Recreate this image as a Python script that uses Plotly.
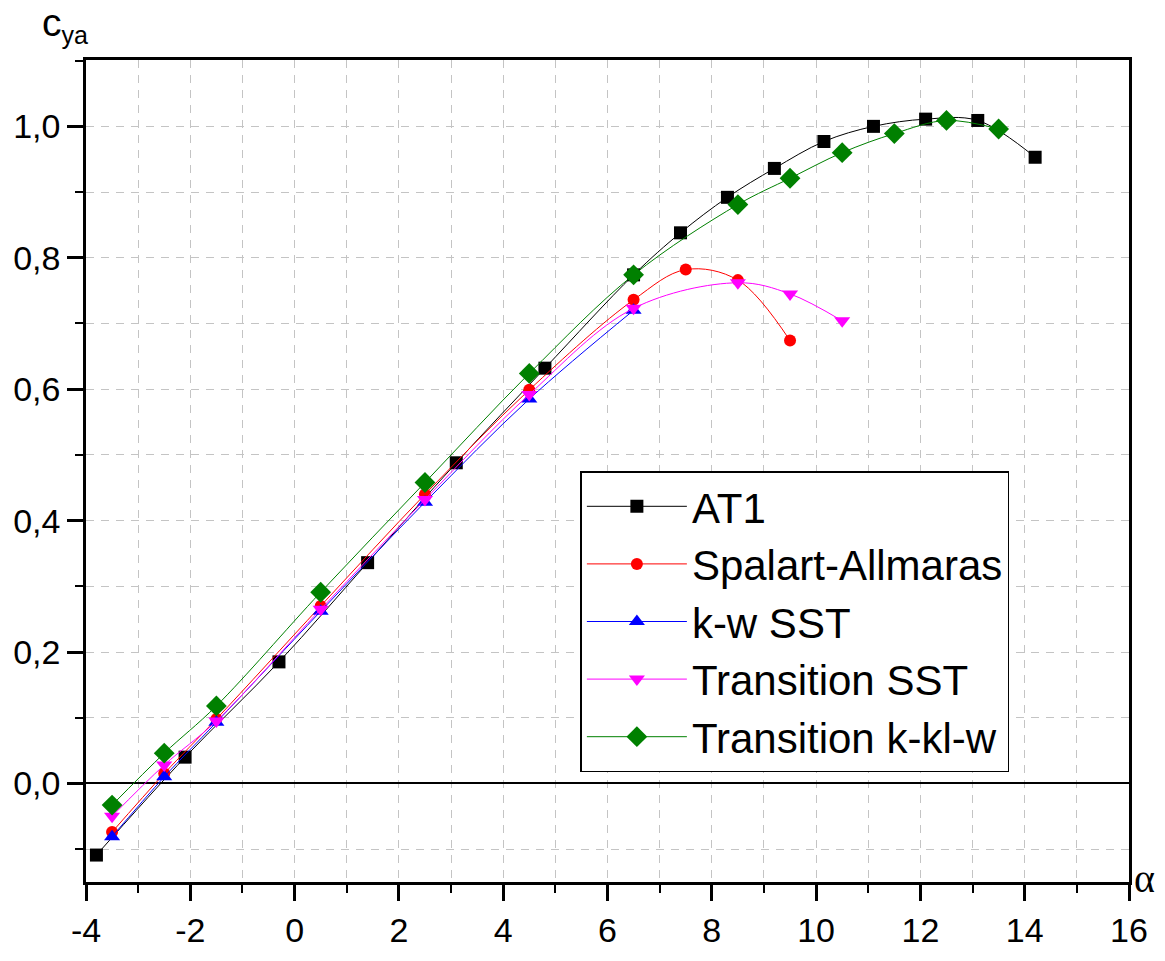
import plotly.graph_objects as go

# ---- data ----
at1_x = [-3.8, -2.1, -0.3, 1.4, 3.1, 4.8, 6.5, 7.4, 8.3, 9.2, 10.15, 11.1, 12.1, 13.1, 14.2]
at1_y = [-0.109, 0.040, 0.185, 0.336, 0.488, 0.632, 0.774, 0.838, 0.892, 0.936, 0.977, 1.000, 1.011, 1.009, 0.953]

sa_x = [-3.5, -2.5, -1.5, 0.5, 2.5, 4.5, 6.5, 7.5, 8.5, 9.5]
sa_y = [-0.074, 0.015, 0.098, 0.270, 0.440, 0.599, 0.736, 0.782, 0.766, 0.674]

kw_x = [-3.5, -2.5, -1.5, 0.5, 2.5, 4.5, 6.5]
kw_y = [-0.081, 0.010, 0.093, 0.262, 0.428, 0.585, 0.720]

tsst_x = [-3.5, -2.5, -1.5, 0.5, 2.5, 4.5, 6.5, 8.5, 9.5, 10.5]
tsst_y = [-0.050, 0.028, 0.095, 0.265, 0.432, 0.592, 0.723, 0.762, 0.745, 0.704]

tkkl_x = [-3.5, -2.5, -1.5, 0.5, 2.5, 4.5, 6.5, 8.5, 9.5, 10.5, 11.5, 12.5, 13.5]
tkkl_y = [-0.033, 0.046, 0.118, 0.291, 0.458, 0.624, 0.774, 0.881, 0.921, 0.960, 0.989, 1.009, 0.996]

names = ["AT1", "Spalart-Allmaras", "k-w SST", "Transition SST", "Transition k-kl-w"]
xs = [at1_x, sa_x, kw_x, tsst_x, tkkl_x]
ys = [at1_y, sa_y, kw_y, tsst_y, tkkl_y]
colors = ["#000000", "#ff0000", "#0000ff", "#ff00ff", "#008000"]
symbols = ["square", "circle", "triangle-up", "triangle-down", "diamond"]
msizes = [13, 12, 14, 14, 16]

x_ticks = [-4, -2, 0, 2, 4, 6, 8, 10, 12, 14, 16]
x_labels = ["-4", "-2", "0", "2", "4", "6", "8", "10", "12", "14", "16"]
y_ticks = [0.0, 0.2, 0.4, 0.6, 0.8, 1.0]
y_labels = ["0,0", "0,2", "0,4", "0,6", "0,8", "1,0"]

fig = go.Figure()
for n, x, y, c, s, m in zip(names, xs, ys, colors, symbols, msizes):
    fig.add_trace(go.Scatter(
        x=x, y=y, name=n, mode="lines+markers",
        line=dict(color=c, width=1, shape="spline", smoothing=1.0),
        marker=dict(symbol=s, size=m, color=c, line=dict(width=0)),
    ))

grid = "#c4c4c4"
gdash = "8px,7px"
fig.update_layout(
    width=1165, height=961,
    margin=dict(l=86, r=36, t=60, b=61),
    paper_bgcolor="white", plot_bgcolor="white",
    separators=", ",
    font=dict(family="Liberation Sans, Arial", size=34, color="black"),
    showlegend=True,
    legend=dict(
        x=0.474, y=0.5, xanchor="left", yanchor="top",
        bgcolor="white", bordercolor="black", borderwidth=1.5,
        font=dict(size=42, family="Liberation Sans, Arial"),
        itemwidth=100, tracegroupgap=0,
    ),
    xaxis=dict(
        range=[-4, 16], tickvals=x_ticks, ticktext=x_labels, ticks="outside", ticklen=16, tickwidth=2.5,
        tickcolor="black", showline=True, linecolor="black", linewidth=2.5, mirror=True,
        showgrid=True, gridcolor=grid, griddash=gdash, gridwidth=1, zeroline=False,
        minor=dict(dtick=1, ticklen=8, tickwidth=2, tickcolor="black", ticks="outside",
                   showgrid=True, gridcolor=grid, griddash=gdash, gridwidth=1),
    ),
    yaxis=dict(
        range=[-0.15, 1.101], tickvals=y_ticks, ticktext=y_labels,
        ticks="outside", ticklen=16, tickwidth=2.5,
        tickcolor="black", showline=True, linecolor="black", linewidth=2.5, mirror=True,
        showgrid=True, gridcolor=grid, griddash=gdash, gridwidth=1,
        zeroline=True, zerolinecolor="black", zerolinewidth=2,
        minor=dict(dtick=0.1, tick0=0, ticklen=8, tickwidth=2, tickcolor="black", ticks="outside",
                   showgrid=True, gridcolor=grid, griddash=gdash, gridwidth=1),
    ),
    annotations=[
        dict(text="c<sub><span style='font-size:25px'>ya</span></sub>", xref="paper", yref="paper",
             x=-0.044, y=1.0, xanchor="left", yanchor="bottom", yshift=9, showarrow=False,
             font=dict(size=39, family="Liberation Sans, Arial")),
        dict(text="α", xref="paper", yref="paper", x=1.0, y=0.0,
             xanchor="left", yanchor="middle", xshift=3, yshift=4, showarrow=False,
             font=dict(size=40, family="Liberation Serif, Times New Roman")),
    ],
)

fig.write_html("out.html")
